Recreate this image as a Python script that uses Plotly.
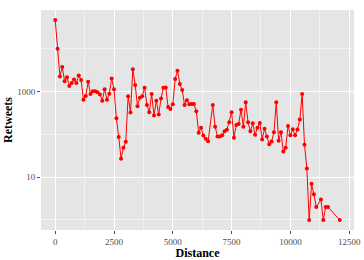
import plotly.graph_objects as go

distance = [0, 100, 200, 300, 400, 500, 600, 700, 800, 900,
            1000, 1100, 1200, 1300, 1400, 1500, 1600, 1700, 1800, 1900,
            2000, 2100, 2200, 2300, 2400, 2500, 2600, 2700, 2800, 2900,
            3000, 3100, 3200, 3300, 3400, 3500, 3600, 3700, 3800, 3900,
            4000, 4100, 4200, 4300, 4400, 4500, 4600, 4700, 4800, 4900,
            5000, 5100, 5200, 5300, 5400, 5500, 5600, 5700, 5800, 5900,
            6000, 6100, 6200, 6300, 6400, 6500, 6700, 6800, 6900,
            7000, 7100, 7200, 7300, 7400, 7500, 7600, 7700, 7800, 7900,
            8000, 8100, 8200, 8300, 8400, 8500, 8600, 8700, 8800, 8900,
            9000, 9100, 9200, 9300, 9400, 9500, 9600, 9700, 9800, 9900,
            10000, 10100, 10200, 10300, 10400, 10500, 10600, 10700, 10800, 10900,
            11000, 11100, 11300, 11400, 11500, 11600, 12100]
retweets = [47200, 10100, 2270, 3780, 1740, 2160, 1360, 1600, 1910, 1600,
            2370, 1880, 650, 794, 1710, 884, 1016, 1016, 963, 861,
            616, 1144, 644, 889, 2032, 1132, 238, 87, 27, 49,
            67, 785, 324, 3320, 1433, 454, 724, 777, 1240, 489,
            329, 884, 275, 616, 291, 687, 1240, 1253, 435, 394,
            505, 1980, 3090, 1510, 1096, 489, 627, 505, 516, 516,
            347, 110, 144, 94, 79, 69, 489, 152, 90,
            89, 95, 118, 128, 192, 329, 84, 167, 176, 376,
            151, 562, 192, 118, 182, 98, 144, 186, 76, 135,
            90, 59, 68, 112, 562, 71, 112, 40, 49, 158,
            95, 132, 95, 130, 222, 884, 57, 16, 1, 7,
            4, 2, 3, 1, 2, 2, 1]

x_ticks = [0, 2500, 5000, 7500, 10000, 12500]
x_minor = [1250, 3750, 6250, 8750, 11250]
y_ticks = [10, 1000]
y_minor = [1, 100, 10000]

fig = go.Figure(go.Scatter(
    x=distance, y=retweets, mode="lines+markers",
    line=dict(color="#FF0000", width=1),
    marker=dict(color="#FF0000", size=4),
))

font = "Liberation Serif"
fig.update_layout(
    width=364, height=260,
    margin=dict(l=41, r=10, t=10, b=30, autoexpand=False),
    paper_bgcolor="white", plot_bgcolor="#E5E5E5",
    showlegend=False,
    font=dict(family=font, color="#4D4D4D", size=9),
)
fig.update_xaxes(
    range=[-605, 12705], tickvals=x_ticks, ticktext=[str(v) for v in x_ticks],
    ticks="outside", ticklen=3, tickcolor="#4D4D4D", tickwidth=1,
    showgrid=True, gridcolor="white", gridwidth=1.1, zeroline=False, showline=False,
    minor=dict(tickvals=x_minor, showgrid=True, gridcolor="#F2F2F2", gridwidth=0.5, ticks=""),
    tickfont=dict(family=font, size=9, color="#4D4D4D"),
    title=dict(text="<b>Distance</b>", font=dict(family=font, size=12, color="black"), standoff=2),
)
fig.update_yaxes(
    type="log", range=[-0.234, 4.908], tickvals=y_ticks, ticktext=["10", "1000"],
    ticks="outside", ticklen=3, tickcolor="#4D4D4D", tickwidth=1,
    showgrid=True, gridcolor="white", gridwidth=1.1, zeroline=False, showline=False,
    minor=dict(tickvals=y_minor, showgrid=True, gridcolor="#F2F2F2", gridwidth=0.5, ticks=""),
    tickfont=dict(family=font, size=9, color="#4D4D4D"),
    title=dict(text="<b>Retweets</b>", font=dict(family=font, size=12, color="black"), standoff=2),
)

fig.write_html("out.html", config={"displayModeBar": False},
               post_script="document.body.style.margin='0';document.body.style.padding='0';")
